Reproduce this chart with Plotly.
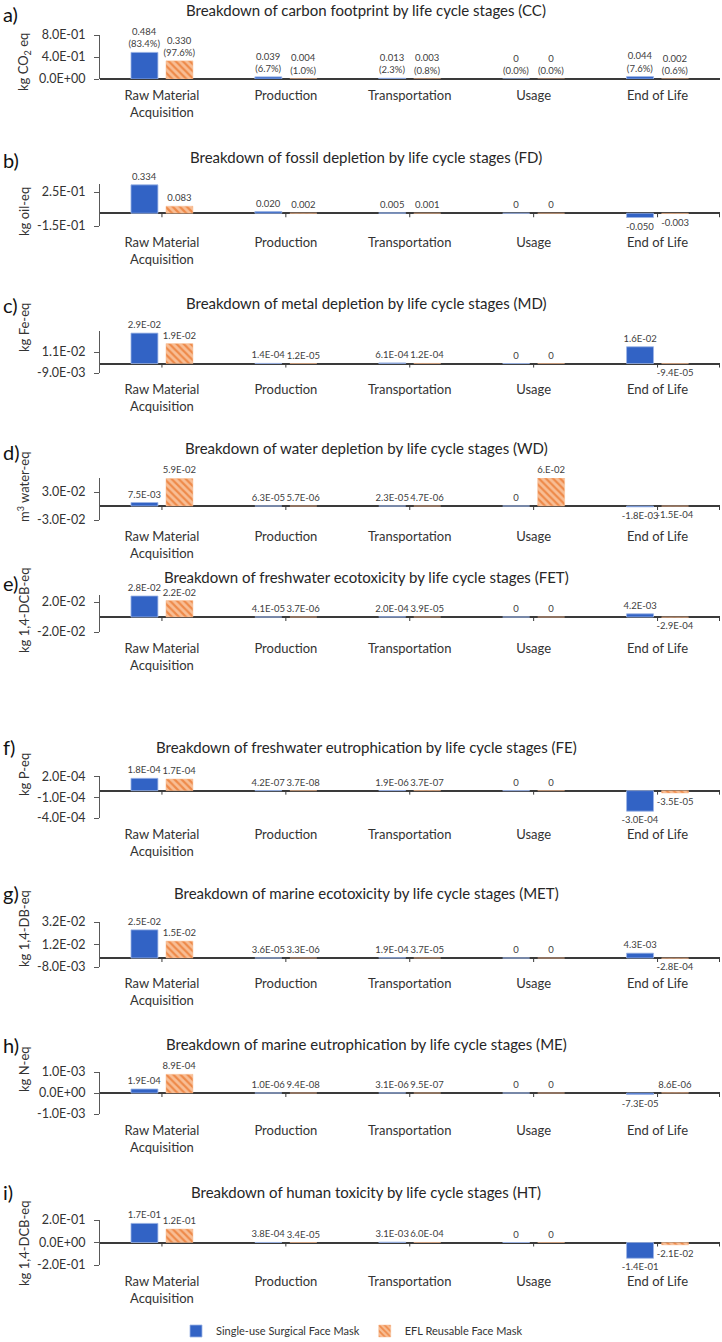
import plotly.graph_objects as go

W, H = 722, 1342

stages = ["Raw Material<br>Acquisition", "Production", "Transportation", "Usage", "End of Life"]
series_names = ["Single-use Surgical Face Mask", "EFL Reusable Face Mask"]

letters = ["a)", "b)", "c)", "d)", "e)", "f)", "g)", "h)", "i)"]
titles = [
    "Breakdown of carbon footprint by life cycle stages (CC)",
    "Breakdown of fossil depletion by life cycle stages (FD)",
    "Breakdown of metal depletion by life cycle stages (MD)",
    "Breakdown of water depletion by life cycle stages (WD)",
    "Breakdown of freshwater ecotoxicity by life cycle stages (FET)",
    "Breakdown of freshwater eutrophication by life cycle stages (FE)",
    "Breakdown of marine ecotoxicity by life cycle stages (MET)",
    "Breakdown of marine eutrophication by life cycle stages (ME)",
    "Breakdown of human toxicity by life cycle stages (HT)",
]
y_titles = [
    "kg CO<sub>2</sub> eq", "kg oil-eq", "kg Fe-eq", "m<sup>3</sup> water-eq",
    "kg 1,4-DCB-eq", "kg P-eq", "kg 1,4-DB-eq", "kg N-eq", "kg 1,4-DCB-eq",
]

# values per panel: single-use, reusable
cc_single = [0.484, 0.039, 0.013, 0, 0.044]
cc_reuse = [0.330, 0.004, 0.003, 0, 0.002]
cc_pct_single = [83.4, 6.7, 2.3, 0.0, 7.6]
cc_pct_reuse = [97.6, 1.0, 0.8, 0.0, 0.6]
fd_single = [0.334, 0.020, 0.005, 0, -0.050]
fd_reuse = [0.083, 0.002, 0.001, 0, -0.003]
md_single = [2.9e-2, 1.4e-4, 6.1e-4, 0, 1.6e-2]
md_reuse = [1.9e-2, 1.2e-5, 1.2e-4, 0, -9.4e-5]
wd_single = [7.5e-3, 6.3e-5, 2.3e-5, 0, -1.8e-3]
wd_reuse = [5.9e-2, 5.7e-6, 4.7e-6, 6e-2, -1.5e-4]
fet_single = [2.8e-2, 4.1e-5, 2.0e-4, 0, 4.2e-3]
fet_reuse = [2.2e-2, 3.7e-6, 3.9e-5, 0, -2.9e-4]
fe_single = [1.8e-4, 4.2e-7, 1.9e-6, 0, -3.0e-4]
fe_reuse = [1.7e-4, 3.7e-8, 3.7e-7, 0, -3.5e-5]
met_single = [2.5e-2, 3.6e-5, 1.9e-4, 0, 4.3e-3]
met_reuse = [1.5e-2, 3.3e-6, 3.7e-5, 0, -2.8e-4]
me_single = [1.9e-4, 1.0e-6, 3.1e-6, 0, -7.3e-5]
me_reuse = [8.9e-4, 9.4e-8, 9.5e-7, 0, 8.6e-6]
ht_single = [1.7e-1, 3.8e-4, 3.1e-3, 0, -1.4e-1]
ht_reuse = [1.2e-1, 3.4e-5, 6.0e-4, 0, -2.1e-2]

singles = [cc_single, fd_single, md_single, wd_single, fet_single, fe_single, met_single, me_single, ht_single]
reuses = [cc_reuse, fd_reuse, md_reuse, wd_reuse, fet_reuse, fe_reuse, met_reuse, me_reuse, ht_reuse]

# y axis ranges and tick values
y_ranges = [[0, 0.8], [-0.15, 0.35], [-0.009, 0.031], [-0.03, 0.06], [-0.02, 0.03],
            [-4e-4, 2.2e-4], [-0.008, 0.032], [-0.001, 0.001], [-0.2, 0.2]]
y_ticks = [[0, 0.4, 0.8], [-0.15, 0.25], [-0.009, 0.011], [-0.03, 0.03], [-0.02, 0.02],
           [-4e-4, -1e-4, 2e-4], [-0.008, 0.012, 0.032], [-0.001, 0, 0.001], [-0.2, 0, 0.2]]

# layout positions (window pixels)
dom_px = [(35, 79), (183.5, 226), (331, 373), (478, 520), (594.5, 632),
          (775.6, 818), (922, 967), (1072, 1114), (1220, 1265)]
title_px = [10, 157, 303, 448, 577, 747, 893, 1044, 1192]
letter_px = [14, 160, 305, 452, 583, 747, 893, 1045, 1192]
ytitle_px = [62, 212, 328, 487, 610, 775, 929, 1069, 1243]

AXIS_X, RIGHT_X = 100, 720
L = AXIS_X
R = W - RIGHT_X
PW = W - L - R


def px_x(px):
    return (px - L) / PW


def px_y(py):
    return 1 - py / H


def fmt(v, panel):
    if v == 0:
        return "0"
    if panel < 2:
        return f"{v:.3f}"
    return f"{v:.1E}"


BLUE = "#3263C5"
ORANGE = "#EE8A4A"
ORANGE_BG = "#F8BE95"
FONT = "Lato"
TXT = "#404040"

fig = go.Figure()
for k in range(9):
    ax = "" if k == 0 else str(k + 1)
    s_txt = [fmt(v, k) for v in singles[k]]
    r_txt = [fmt(v, k) for v in reuses[k]]
    if k == 0:
        s_txt = [f"{t}<br>({p:.1f}%)" for t, p in zip(s_txt, cc_pct_single)]
        r_txt = [f"{t}<br>({p:.1f}%)" for t, p in zip(r_txt, cc_pct_reuse)]
    if k == 3:
        r_txt = [("6.E-02" if t == "6.0E-02" else t) for t in r_txt]
    fig.add_trace(go.Bar(
        x=stages, y=singles[k], name=series_names[0], xaxis="x" + ax, yaxis="y" + ax,
        marker=dict(color=BLUE, line=dict(color="#9DB5E6", width=0.8)),
        text=s_txt, textposition="outside", textangle=0, constraintext="none",
        cliponaxis=False, textfont=dict(size=9.5, color=TXT, family=FONT),
        showlegend=(k == 0), legendgroup="s",
    ))
    fig.add_trace(go.Bar(
        x=stages, y=reuses[k], name=series_names[1], xaxis="x" + ax, yaxis="y" + ax,
        marker=dict(color=ORANGE, line=dict(color=ORANGE_BG, width=0.5),
                    pattern=dict(shape="\\", fgcolor=ORANGE, bgcolor=ORANGE_BG,
                                 size=5, solidity=0.45, fillmode="replace")),
        text=r_txt, textposition="outside", textangle=0, constraintext="none",
        cliponaxis=False, textfont=dict(size=9.5, color=TXT, family=FONT),
        showlegend=(k == 0), legendgroup="r",
    ))

layout = dict(
    width=W, height=H, barmode="group", bargap=0.435, bargroupgap=0.23,
    paper_bgcolor="white", plot_bgcolor="white",
    margin=dict(l=L, r=R, t=0, b=0, autoexpand=False),
    font=dict(family=FONT, color="#333333"),
    legend=dict(orientation="h", x=px_x(352), xanchor="center", y=px_y(1331), yanchor="middle",
                font=dict(size=11, color="#333333", family=FONT), traceorder="normal",
                itemwidth=30, bgcolor="rgba(0,0,0,0)"),
)
annotations = []
shapes = []
for k in range(9):
    ax = "" if k == 0 else str(k + 1)
    top, bot = dom_px[k]
    layout["xaxis" + ax] = dict(
        domain=[0, 1], anchor="y" + ax, type="category", showline=False, ticks="",
        showgrid=False, tickfont=dict(size=13, color="#333333", family=FONT),
        ticklabelstandoff=7, fixedrange=True,
    )
    layout["yaxis" + ax] = dict(
        domain=[px_y(bot), px_y(top)], anchor="x" + ax, range=y_ranges[k],
        tickvals=y_ticks[k], ticktext=[("0.0E+00" if v == 0 else f"{v:.1E}") for v in y_ticks[k]],
        showline=True, linecolor="#595959", linewidth=1, ticks="outside", ticklen=5,
        tickcolor="#595959", showgrid=False, zeroline=True, zerolinecolor="#3a3a3a",
        zerolinewidth=1.5, tickfont=dict(size=12.5, color="#333333", family=FONT),
        ticklabelstandoff=6, fixedrange=True,
    )
    annotations.append(dict(text=titles[k], xref="paper", yref="paper", x=px_x(366), y=px_y(title_px[k]),
                            showarrow=False, xanchor="center", yanchor="middle",
                            font=dict(size=15, color="#262626", family=FONT)))
    annotations.append(dict(text=letters[k], xref="paper", yref="paper", x=px_x(1), y=px_y(letter_px[k]),
                            showarrow=False, xanchor="left", yanchor="middle",
                            font=dict(size=20, color="#111111", family=FONT)))
    annotations.append(dict(text=y_titles[k], xref="paper", yref="paper", x=px_x(24), y=px_y(ytitle_px[k]),
                            showarrow=False, xanchor="center", yanchor="middle", textangle=-90,
                            font=dict(size=13, color="#333333", family=FONT)))
    for i in [0, 1, 2, 3, 4, 4.5]:
        shapes.append(dict(type="line", xref="x" + ax, yref="y" + ax, x0=i, x1=i,
                           ysizemode="pixel", yanchor=0, y0=0, y1=-4,
                           line=dict(color="#3a3a3a", width=1)))
layout["annotations"] = annotations
layout["shapes"] = shapes
fig.update_layout(**layout)
fig.write_html("out.html", config={"displayModeBar": False},
               post_script="document.body.style.margin='0';document.body.style.overflow='hidden';")
